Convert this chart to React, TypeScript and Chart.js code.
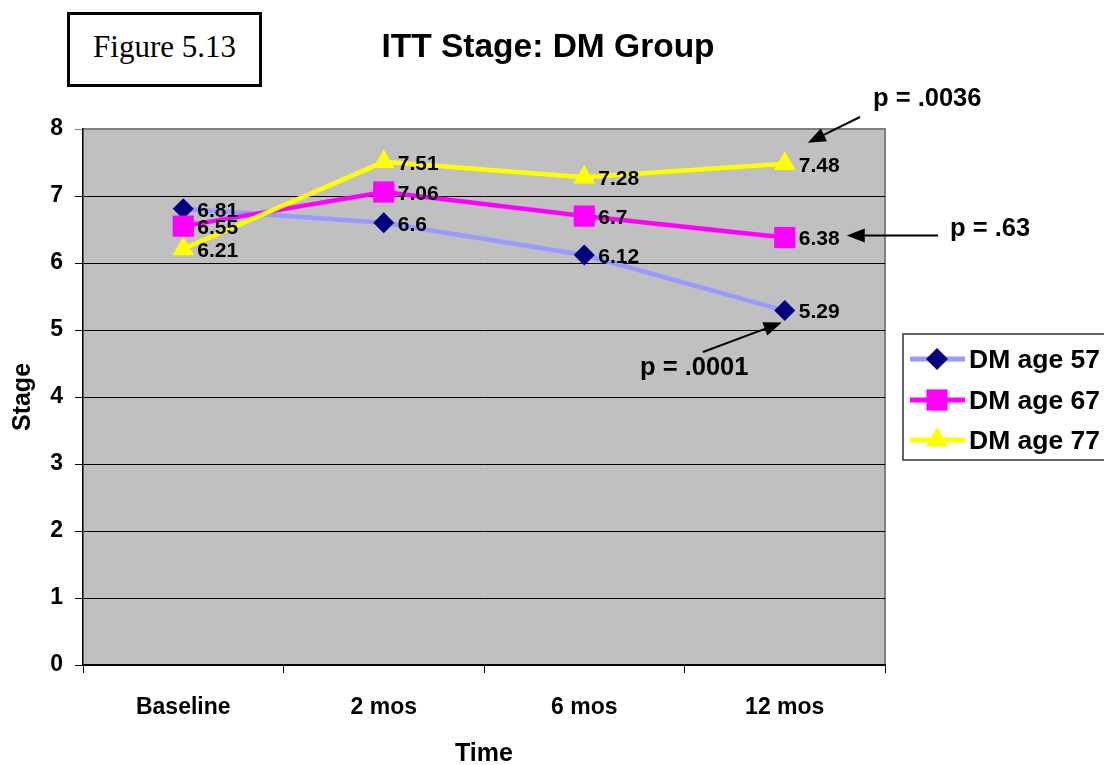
import React, { useEffect, useRef } from "react";
import { Chart, registerables } from "chart.js";

Chart.register(...registerables);

const categories = ["Baseline", "2 mos", "6 mos", "12 mos"];
const age57 = [6.81, 6.6, 6.12, 5.29];
const age67 = [6.55, 7.06, 6.7, 6.38];
const age77 = [6.21, 7.51, 7.28, 7.48];
const seriesNames = ["DM age 57", "DM age 67", "DM age 77"];
const pValues = ["p = .0036", "p = .63", "p = .0001"];
const chartTitle = "ITT Stage: DM Group";
const figureLabel = "Figure 5.13";
const yAxisTitle = "Stage";
const xAxisTitle = "Time";

const FONT = '"Liberation Sans", Arial, Helvetica, sans-serif';

const lineColors = ["#9999FF", "#FF00FF", "#FFFF00"];
const markerColors = ["#000080", "#FF00FF", "#FFFF00"];
const markerStyles = ["rectRot", "rect", "triangle"];
const markerRadius = [10.5, 15, 12.5];

function drawArrow(ctx: CanvasRenderingContext2D, x1: number, y1: number, x2: number, y2: number) {
  const ang = Math.atan2(y2 - y1, x2 - x1);
  const len = 18;
  const hw = 7;
  ctx.save();
  ctx.strokeStyle = "#000";
  ctx.fillStyle = "#000";
  ctx.lineWidth = 2;
  ctx.beginPath();
  ctx.moveTo(x1, y1);
  ctx.lineTo(x2 - Math.cos(ang) * len * 0.8, y2 - Math.sin(ang) * len * 0.8);
  ctx.stroke();
  ctx.beginPath();
  ctx.moveTo(x2, y2);
  ctx.lineTo(x2 - Math.cos(ang) * len - Math.sin(ang) * hw, y2 - Math.sin(ang) * len + Math.cos(ang) * hw);
  ctx.lineTo(x2 - Math.cos(ang) * len + Math.sin(ang) * hw, y2 - Math.sin(ang) * len - Math.cos(ang) * hw);
  ctx.closePath();
  ctx.fill();
  ctx.restore();
}

function drawMarker(ctx: CanvasRenderingContext2D, style: string, x: number, y: number, r: number, color: string) {
  ctx.save();
  ctx.fillStyle = color;
  ctx.beginPath();
  if (style === "rectRot") {
    ctx.moveTo(x, y - r);
    ctx.lineTo(x + r, y);
    ctx.lineTo(x, y + r);
    ctx.lineTo(x - r, y);
  } else if (style === "rect") {
    const s = r * Math.SQRT1_2;
    ctx.rect(x - s, y - s, 2 * s, 2 * s);
  } else {
    ctx.moveTo(x, y - r);
    ctx.lineTo(x + r * Math.sin(Math.PI / 3), y + r / 2);
    ctx.lineTo(x - r * Math.sin(Math.PI / 3), y + r / 2);
  }
  ctx.closePath();
  ctx.fill();
  ctx.restore();
}

const decorPlugin = {
  id: "decor",
  beforeDraw(chart: any) {
    const { ctx, chartArea } = chart;
    ctx.save();
    ctx.fillStyle = "#C0C0C0";
    ctx.fillRect(chartArea.left, chartArea.top, chartArea.right - chartArea.left, chartArea.bottom - chartArea.top);
    ctx.strokeStyle = "#808080";
    ctx.lineWidth = 2;
    ctx.beginPath();
    ctx.moveTo(chartArea.left, chartArea.top);
    ctx.lineTo(chartArea.right, chartArea.top);
    ctx.lineTo(chartArea.right, chartArea.bottom);
    ctx.stroke();
    // title
    ctx.fillStyle = "#000";
    ctx.font = `bold 33.5px ${FONT}`;
    ctx.textAlign = "center";
    ctx.textBaseline = "middle";
    ctx.fillText(chartTitle, 548, 48);
    ctx.restore();
  },
  afterDatasetsDraw(chart: any) {
    const { ctx } = chart;
    ctx.save();
    ctx.fillStyle = "#000";
    ctx.font = `bold 21px ${FONT}`;
    ctx.textAlign = "left";
    ctx.textBaseline = "middle";
    chart.data.datasets.forEach((ds: any, i: number) => {
      const meta = chart.getDatasetMeta(i);
      meta.data.forEach((pt: any, j: number) => {
        ctx.fillText(String(ds.data[j]), pt.x + 14, pt.y + 2);
      });
    });

    // annotations
    const p77 = chart.getDatasetMeta(2).data[3];
    const p67 = chart.getDatasetMeta(1).data[3];
    const p57 = chart.getDatasetMeta(0).data[3];
    ctx.font = `bold 25.5px ${FONT}`;
    ctx.textAlign = "left";
    ctx.fillText(pValues[0], 873, 99);
    ctx.fillText(pValues[1], 950, 229);
    ctx.fillText(pValues[2], 640, 368);
    drawArrow(ctx, 860, 117, p77.x + 23, p77.y - 21);
    drawArrow(ctx, 938, p67.y - 2, p67.x + 62, p67.y - 2);
    drawArrow(ctx, 703, 352, p57.x - 3, p57.y + 12);

    // legend
    const lx = 903, ly = 334, lw = 210, lh = 126;
    ctx.fillStyle = "#FFFFFF";
    ctx.fillRect(lx, ly, lw, lh);
    ctx.strokeStyle = "#333";
    ctx.lineWidth = 1.5;
    ctx.strokeRect(lx, ly, lw, lh);
    const ys = [359, 400, 440];
    const legR = [11, 15, 13];
    seriesNames.forEach((name, i) => {
      ctx.strokeStyle = lineColors[i];
      ctx.lineWidth = 5;
      ctx.beginPath();
      ctx.moveTo(910, ys[i]);
      ctx.lineTo(965, ys[i]);
      ctx.stroke();
      drawMarker(ctx, markerStyles[i], 937, ys[i], legR[i], markerColors[i]);
      ctx.fillStyle = "#000";
      ctx.font = `bold 26.5px ${FONT}`;
      ctx.textAlign = "left";
      ctx.textBaseline = "middle";
      ctx.fillText(name, 969, ys[i] + 2);
    });
    ctx.restore();
  },
};

export default function App() {
  const ref = useRef<HTMLCanvasElement | null>(null);
  useEffect(() => {
    if (!ref.current) return;
    const seriesData = [age57, age67, age77];
    const chart = new Chart(ref.current, {
      type: "line",
      data: {
        labels: categories,
        datasets: seriesData.map((d, i) => ({
          label: seriesNames[i],
          data: d,
          borderColor: lineColors[i],
          backgroundColor: markerColors[i],
          borderWidth: 4.5,
          pointStyle: markerStyles[i] as any,
          pointRadius: markerRadius[i],
          pointBackgroundColor: markerColors[i],
          pointBorderColor: markerColors[i],
          pointBorderWidth: 0,
          tension: 0,
          fill: false,
          order: 3 - i,
        })),
      },
      options: {
        responsive: false,
        animation: false,
        layout: { padding: { left: 0, top: 129, right: 219, bottom: 0 } },
        plugins: {
          legend: { display: false },
          tooltip: { enabled: false },
          title: { display: false },
        },
        scales: {
          x: {
            type: "category",
            offset: true,
            grid: {
              display: true,
              offset: true,
              drawOnChartArea: false,
              drawTicks: true,
              tickLength: 8,
              color: "#000",
            },
            border: { display: true, color: "#000", width: 1.5 },
            ticks: {
              color: "#000",
              font: { family: FONT, size: 23, weight: "bold" },
              padding: 21,
              maxRotation: 0,
            },
            title: {
              display: true,
              text: xAxisTitle,
              color: "#000",
              font: { family: FONT, size: 25, weight: "bold", lineHeight: 1 },
              padding: { top: 0, bottom: -2 },
            },
            afterFit: (s: any) => {
              s.height = 100;
            },
          },
          y: {
            min: 0,
            max: 8,
            ticks: {
              stepSize: 1,
              color: "#000",
              font: { family: FONT, size: 23, weight: "bold" },
              padding: 12,
            },
            grid: {
              color: (c: any) => (c.tick && c.tick.value === 8 ? "#808080" : "#000"),
              lineWidth: 1,
              drawTicks: true,
              tickLength: 8,
            },
            border: { display: true, color: "#000", width: 1.5 },
            title: {
              display: true,
              text: yAxisTitle,
              color: "#000",
              font: { family: FONT, size: 25, weight: "bold", lineHeight: 1.2 },
              padding: { top: 8, bottom: 0 },
            },
            afterFit: (s: any) => {
              s.width = 83;
            },
          },
        },
      },
      plugins: [decorPlugin],
    });
    return () => chart.destroy();
  }, []);

  return (
    <div style={{ position: "absolute", left: 0, top: 0, width: 1104, height: 765, background: "#fff", overflow: "hidden" }}>
      <canvas ref={ref} width={1104} height={765} style={{ width: 1104, height: 765, display: "block" }} />
      <div
        style={{
          position: "absolute",
          left: 67,
          top: 12,
          width: 195,
          height: 75,
          boxSizing: "border-box",
          border: "3px solid #000",
          background: "#fff",
          fontFamily: '"Liberation Serif", "Times New Roman", serif',
          fontSize: 31,
          display: "flex",
          alignItems: "center",
          justifyContent: "center",
          paddingBottom: 5,
          color: "#000",
        }}
      >
        {figureLabel}
      </div>
    </div>
  );
}
